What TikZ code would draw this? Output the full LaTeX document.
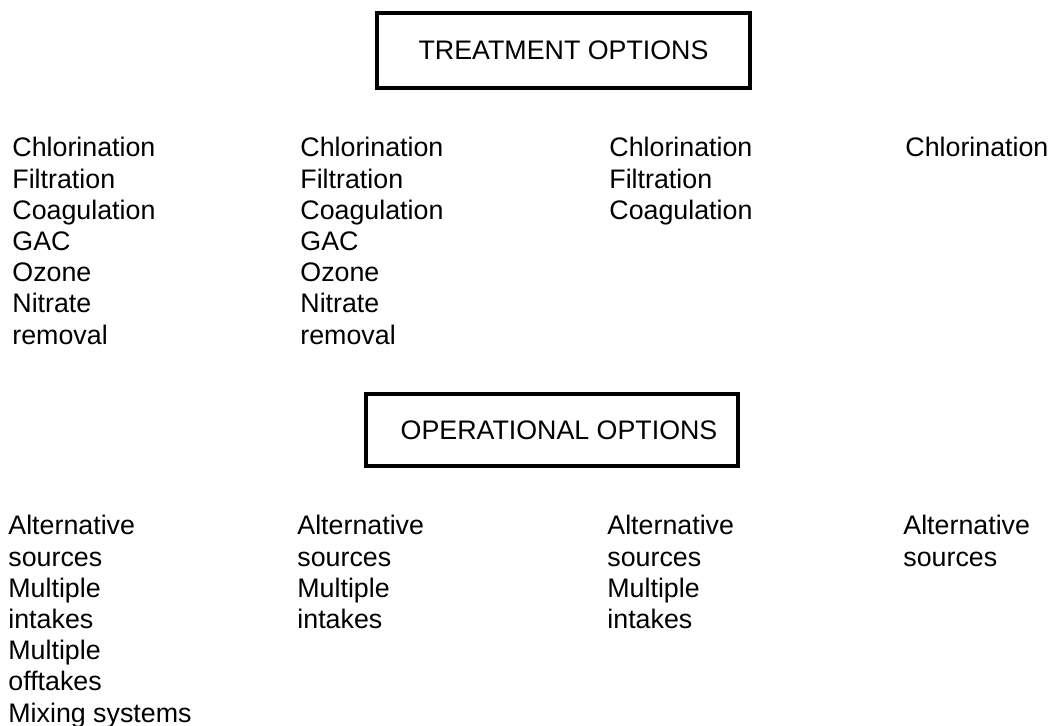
\documentclass[tikz,border=0pt]{standalone}
\usepackage{fontspec}
\setmainfont{Liberation Sans}
\usepackage{tikz}

\tikzset{
  headbox/.style={draw, line width=1.8pt, inner sep=0pt, font=\fontsize{13.4}{15.6}\selectfont},
  optlist/.style={anchor=north west, align=left, inner sep=0pt, font=\fontsize{13.4}{15.6}\selectfont}
}

\begin{document}
\begin{tikzpicture}[x=0.5pt, y=-0.5pt]
\useasboundingbox (0,0) rectangle (1052,725);

% Treatment options
\node[headbox, minimum width=186.5pt, minimum height=37.5pt] (treat) at (563.5,50.5) {TREATMENT OPTIONS};

\node[optlist] (treatA) at (12,137) {Chlorination\\Filtration\\Coagulation\\GAC\\Ozone\\Nitrate\\removal};
\node[optlist] (treatB) at (300,137) {Chlorination\\Filtration\\Coagulation\\GAC\\Ozone\\Nitrate\\removal};
\node[optlist] (treatC) at (609,137) {Chlorination\\Filtration\\Coagulation};
\node[optlist] (treatD) at (905,137) {Chlorination};

% Operational options
\node[headbox, minimum width=186pt, minimum height=36pt] (oper) at (552,430) {\hspace{7pt}OPERATIONAL OPTIONS};

\node[optlist] (operA) at (8,515) {Alternative\\sources\\Multiple\\intakes\\Multiple\\offtakes\\Mixing systems};
\node[optlist] (operB) at (297,515) {Alternative\\sources\\Multiple\\intakes};
\node[optlist] (operC) at (607,515) {Alternative\\sources\\Multiple\\intakes};
\node[optlist] (operD) at (903,515) {Alternative\\sources};

\end{tikzpicture}
\end{document}
